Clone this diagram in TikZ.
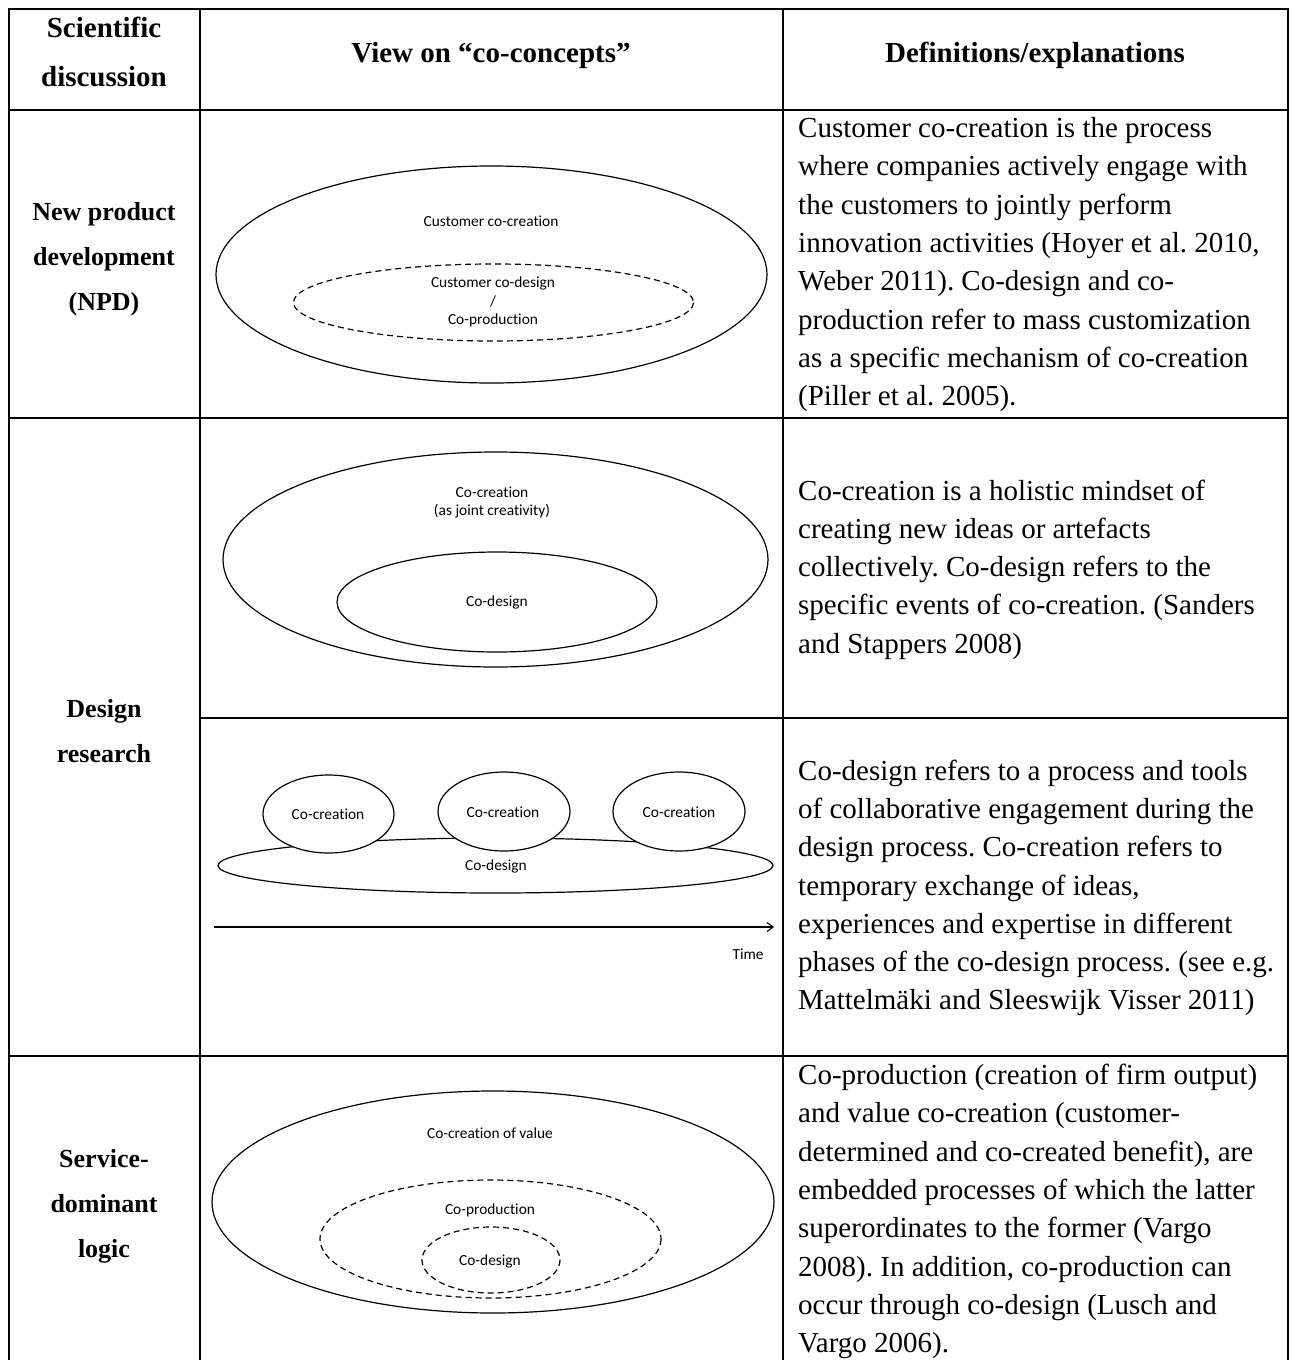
\documentclass[tikz,border=0pt]{standalone}
\usepackage{fontspec}
\setmainfont{Liberation Serif}
\newfontfamily\diagfont[Ligatures=NoCommon]{Carlito}
\usetikzlibrary{arrows.meta}
\frenchspacing
\newcommand\bodylines[3]{%
  \foreach \ln [count=\i from 0] in {#3} {\node[bodytxt] (#1\i) at (798,{#2+38.33*\i}) {\ln};}}
\begin{document}
\begin{tikzpicture}[x=1pt,y=-1pt,
  grid/.style={line width=2pt},
  ell/.style={line width=1.2pt},
  dash ell/.style={line width=1.2pt, dash pattern=on 6pt off 4pt},
  head/.style={font=\bfseries\fontsize{29}{35}\selectfont, inner sep=0pt, anchor=base},
  rowlab/.style={font=\bfseries\fontsize{26}{30}\selectfont, inner sep=0pt, anchor=base},
  bodytxt/.style={font=\fontsize{29}{35}\selectfont, inner sep=0pt, anchor=base west},
  dlab/.style={font=\diagfont\fontsize{15.4}{18}\selectfont, inner sep=0pt}]
\useasboundingbox (0,0) rectangle (1290,1360);
\fill[white] (0,0) rectangle (1290,1360);
% table grid
\draw[grid] (9,1362) -- (9,9) -- (1288,9) -- (1288,1362);
\draw[grid] (200,9) -- (200,1362);
\draw[grid] (783,9) -- (783,1362);
\draw[grid] (9,110) -- (1288,110);
\draw[grid] (9,418) -- (1288,418);
\draw[grid] (200,718) -- (1288,718);
\draw[grid] (9,1056) -- (1288,1056);
% headers
\node[head] (h1a) at (104,37) {Scientific};
\node[head] (h1b) at (104,86) {discussion};
\node[head] (h2) at (491,62) {View on “co-concepts”};
\node[head] (h3) at (1035,62) {Definitions/explanations};
% row labels
\node[rowlab] (npd1) at (104,220) {New product};
\node[rowlab] (npd2) at (104,265) {development};
\node[rowlab] (npd3) at (104,310) {(NPD)};
\node[rowlab] (dr1) at (104,717.5) {Design};
\node[rowlab] (dr2) at (104,762.5) {research};
\node[rowlab] (sd1) at (104,1167) {Service-};
\node[rowlab] (sd2) at (104,1212) {dominant};
\node[rowlab] (sd3) at (104,1257) {logic};
% diagram 1
\draw[ell] (491.5,274.5) ellipse [x radius=275.5, y radius=108.5];
\draw[dash ell] (493.5,302.5) ellipse [x radius=200, y radius=38.5];
\node[dlab] (d1a) at (491,221) {Customer co-creation};
\node[dlab] (d1b) at (493,283) {Customer co-design};
\node[dlab] (d1c) at (493,301) {/};
\node[dlab] (d1d) at (493,320) {Co-production};
% diagram 2
\draw[ell] (495.5,559.5) ellipse [x radius=272.5, y radius=107.5];
\draw[ell] (497,602) ellipse [x radius=160, y radius=50];
\node[dlab] (d2a) at (492,492) {Co-creation};
\node[dlab] (d2b) at (492,511) {(as joint creativity)};
\node[dlab] (d2c) at (497,602) {Co-design};
% diagram 3 (timeline)
\draw[ell] (495.5,865.5) ellipse [x radius=277.5, y radius=27.5];
\draw[ell, fill=white] (328.5,814) ellipse [x radius=65.5, y radius=39];
\draw[ell, fill=white] (504,811.5) ellipse [x radius=66, y radius=39.5];
\draw[ell, fill=white] (679,811.5) ellipse [x radius=66, y radius=39.5];
\node[dlab] (d3a) at (328,814) {Co-creation};
\node[dlab] (d3b) at (503,812) {Co-creation};
\node[dlab] (d3c) at (679,812) {Co-creation};
\node[dlab] (d3d) at (496,866) {Co-design};
\coordinate (tA) at (214,927);
\coordinate (tB) at (774,927);
\draw[ell, -{Straight Barb[length=6pt,width=9pt]}] (tA) -- (tB);
\node[dlab] (d3e) at (748,954) {Time};
% diagram 4
\draw[ell] (493,1202) ellipse [x radius=281, y radius=111];
\draw[dash ell] (490.5,1239) ellipse [x radius=170.5, y radius=59];
\draw[dash ell] (491,1260) ellipse [x radius=69, y radius=33];
\node[dlab] (d4a) at (490,1133) {Co-creation of value};
\node[dlab] (d4b) at (490,1210) {Co-production};
\node[dlab] (d4c) at (490,1261) {Co-design};
% body texts
\bodylines{ta}{137.5}{Customer co-creation is the process,
  where companies actively engage with,
  the customers to jointly perform,
  {innovation activities (Hoyer et al. 2010,},
  Weber 2011). Co-design and co-,
  production refer to mass customization,
  as a specific mechanism of co-creation,
  (Piller et al. 2005).}
\bodylines{tb}{500}{Co-creation is a holistic mindset of,
  creating new ideas or artefacts,
  collectively. Co-design refers to the,
  specific events of co-creation. (Sanders,
  and Stappers 2008)}
\bodylines{tc}{780}{Co-design refers to a process and tools,
  of collaborative engagement during the,
  design process. Co-creation refers to,
  {temporary exchange of ideas,},
  experiences and expertise in different,
  phases of the co-design process. (see e.g.,
  Mattelmäki and Sleeswijk Visser 2011)}
\bodylines{td}{1084.5}{Co-production (creation of firm output),
  and value co-creation (customer-,
  {determined and co-created benefit), are},
  embedded processes of which the latter,
  superordinates to the former (Vargo,
  {2008). In addition, co-production can},
  occur through co-design (Lusch and,
  Vargo 2006).}
\end{tikzpicture}
\end{document}
